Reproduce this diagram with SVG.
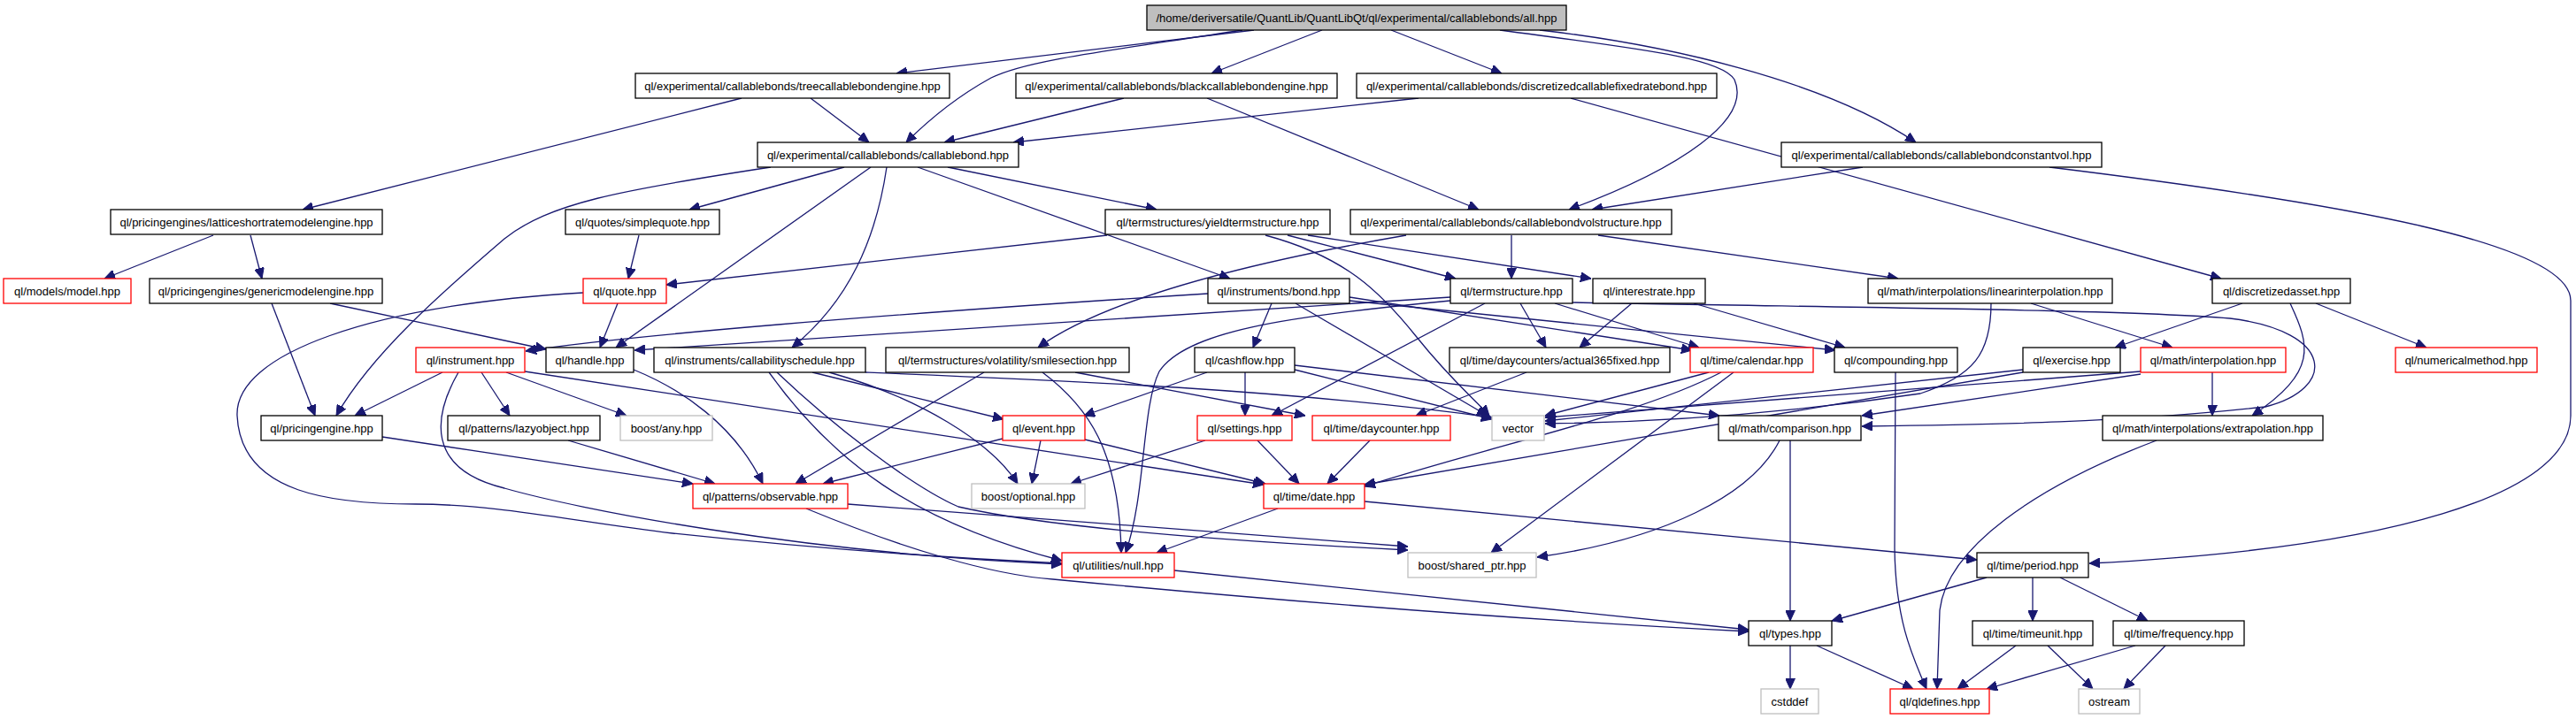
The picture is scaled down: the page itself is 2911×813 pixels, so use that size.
<svg xmlns="http://www.w3.org/2000/svg" width="2911" height="813" viewBox="0 0 2911 813">
<style>
.n rect{fill:#fff;stroke:#000;stroke-width:1.3}
.n.r rect{stroke:#f00}
.n.g rect{stroke:#bfbfbf}
.n.root rect{fill:#bfbfbf}
.n text{font-family:"Liberation Sans",Arial,sans-serif;font-size:13px;fill:#000;text-anchor:middle}
.e path{fill:none;stroke:#191970;stroke-width:1.3;marker-end:url(#a)}
</style>
<defs>
<marker id="a" viewBox="0 0 12 11" markerWidth="12" markerHeight="11" refX="12" refY="5.5" orient="auto" markerUnits="userSpaceOnUse">
<path d="M0,0 L12,5.5 L0,11 z" fill="#191970" stroke="#191970" stroke-width="1"/>
</marker>
</defs>
<rect width="2911" height="813" fill="#fff"/>
<g id="edges" class="e">
<path d="M1417,34 L1013,83"/>
<path d="M1404,34 C1250,58 1160,68 1120,88 C1080,110 1045,140 1024,161"/>
<path d="M1494,34 L1369,83"/>
<path d="M1572,34 L1697,83"/>
<path d="M1695,34 C1850,55 1945,65 1960,90 C1980,135 1900,190 1773,237"/>
<path d="M1740,34 C1880,50 2060,90 2165,161"/>
<path d="M2316,189 C2650,230 2905,275 2905,340 L2905,470 C2905,560 2700,620 2361,637"/>
<path d="M916,111 L982,161"/>
<path d="M838,111 L342,237"/>
<path d="M1270,111 L1067,161"/>
<path d="M1364,111 L1671,237"/>
<path d="M1603,111 L1145,161"/>
<path d="M1775,111 L2510,315"/>
<path d="M871,189 C700,215 620,230 570,270 C500,330 420,400 380,470"/>
<path d="M954,189 L779,237"/>
<path d="M984,189 L696,393"/>
<path d="M1002,189 C990,270 960,340 895,393"/>
<path d="M1037,189 L1390,315"/>
<path d="M1071,189 L1307,237"/>
<path d="M722,266 L710,315"/>
<path d="M1251,266 L753,322"/>
<path d="M1455,266 L1645,315"/>
<path d="M1478,266 L1798,315"/>
<path d="M1430,266 C1520,290 1560,330 1600,380 C1640,430 1665,450 1683,470"/>
<path d="M1589,266 C1450,290 1260,330 1173,393"/>
<path d="M1708,266 L1708,315"/>
<path d="M1806,266 L2145,315"/>
<path d="M2105,189 L1799,237"/>
<path d="M241,266 L118,315"/>
<path d="M283,266 L296,315"/>
<path d="M307,343 L356,470"/>
<path d="M373,343 L617,395"/>
<path d="M698,343 L678,393"/>
<path d="M659,331 C420,345 265,400 268,470 C272,560 380,570 470,570 C560,570 650,590 760,603 C900,618 1050,630 1200,637"/>
<path d="M1437,343 L1416,393"/>
<path d="M1365,332 C1000,355 700,380 594,397"/>
<path d="M1464,343 L1681,470"/>
<path d="M1525,336 L1912,396"/>
<path d="M1525,340 L2074,396"/>
<path d="M1639,336 L717,396"/>
<path d="M1639,340 C1450,358 1340,375 1310,420 C1290,460 1295,560 1272,625"/>
<path d="M1678,343 L1437,470"/>
<path d="M1215,421 L1475,470"/>
<path d="M1718,343 L1747,393"/>
<path d="M1757,343 L1920,393"/>
<path d="M1777,342 C2100,348 2400,350 2520,360 C2640,375 2640,440 2560,460 C2400,478 2250,480 2104,482"/>
<path d="M2588,343 C2610,390 2620,420 2545,470"/>
<path d="M1844,343 L1785,393"/>
<path d="M1914,343 L2085,393"/>
<path d="M2295,343 L2455,393"/>
<path d="M2250,343 C2250,400 2230,425 2170,445 C2000,470 1850,478 1746,479"/>
<path d="M2534,343 L2390,393"/>
<path d="M2617,343 L2742,393"/>
<path d="M2500,421 L2500,470"/>
<path d="M2419,420 L1746,472"/>
<path d="M2419,423 L2104,470"/>
<path d="M2286,418 L1746,476"/>
<path d="M2286,421 L1542,548"/>
<path d="M1931,421 L1746,470"/>
<path d="M1945,421 C1850,470 1700,500 1542,550"/>
<path d="M1959,421 L1685,625"/>
<path d="M2142,421 L2141,620 C2142,700 2160,740 2177,779"/>
<path d="M2011,498 C1980,560 1880,610 1737,630"/>
<path d="M2023,498 L2023,702"/>
<path d="M1364,421 L1225,470"/>
<path d="M1407,421 L1407,470"/>
<path d="M1463,418 L1686,474"/>
<path d="M1463,413 L1943,470"/>
<path d="M1112,421 L899,547"/>
<path d="M1178,421 C1230,460 1265,510 1267,625"/>
<path d="M869,421 C940,520 1030,590 1200,634"/>
<path d="M878,421 C940,480 1030,550 1083,573 C1200,600 1450,615 1591,622"/>
<path d="M918,421 L1134,474"/>
<path d="M937,421 C1040,450 1120,500 1150,547"/>
<path d="M978,421 C1200,430 1450,440 1686,472"/>
<path d="M1133,496 L930,547"/>
<path d="M1176,498 L1166,547"/>
<path d="M1226,497 L1430,547"/>
<path d="M1362,498 L1210,547"/>
<path d="M1421,498 L1468,547"/>
<path d="M1548,498 L1500,547"/>
<path d="M1725,421 L1600,470"/>
<path d="M500,421 L401,470"/>
<path d="M518,421 C490,470 480,530 570,552 C650,575 900,625 1200,638"/>
<path d="M544,421 L576,470"/>
<path d="M572,421 L708,470"/>
<path d="M593,420 L1428,548"/>
<path d="M432,494 L783,547"/>
<path d="M642,498 L808,547"/>
<path d="M716,418 C770,440 830,480 862,547"/>
<path d="M958,570 L1591,618"/>
<path d="M911,575 C1020,620 1120,650 1190,655 C1400,675 1700,700 1976,714"/>
<path d="M1327,645 L1976,712"/>
<path d="M1444,575 L1307,625"/>
<path d="M1542,567 L2234,633"/>
<path d="M2023,730 L2023,779"/>
<path d="M2053,730 L2162,779"/>
<path d="M2245,653 L2070,702"/>
<path d="M2297,653 L2297,702"/>
<path d="M2328,653 L2427,702"/>
<path d="M2278,730 L2212,779"/>
<path d="M2314,730 L2365,779"/>
<path d="M2413,730 L2245,779"/>
<path d="M2447,730 L2400,779"/>
<path d="M2437,498 C2300,550 2200,620 2192,690 L2189,779"/>
</g>
<g id="n_root" class="n root"><rect x="1296" y="6" width="474" height="28"/><text x="1533" y="24.5">/home/deriversatile/QuantLib/QuantLibQt/ql/experimental/callablebonds/all.hpp</text></g>
<g id="n_tree" class="n"><rect x="718" y="83" width="355" height="28"/><text x="895.5" y="101.5">ql/experimental/callablebonds/treecallablebondengine.hpp</text></g>
<g id="n_black" class="n"><rect x="1148" y="83" width="363" height="28"/><text x="1329.5" y="101.5">ql/experimental/callablebonds/blackcallablebondengine.hpp</text></g>
<g id="n_disc" class="n"><rect x="1533" y="83" width="407" height="28"/><text x="1736.5" y="101.5">ql/experimental/callablebonds/discretizedcallablefixedratebond.hpp</text></g>
<g id="n_cb" class="n"><rect x="856" y="161" width="295" height="28"/><text x="1003.5" y="179.5">ql/experimental/callablebonds/callablebond.hpp</text></g>
<g id="n_cvol" class="n"><rect x="2013" y="161" width="362" height="28"/><text x="2194" y="179.5">ql/experimental/callablebonds/callablebondconstantvol.hpp</text></g>
<g id="n_lattice" class="n"><rect x="125" y="237" width="307" height="28"/><text x="278.5" y="255.5">ql/pricingengines/latticeshortratemodelengine.hpp</text></g>
<g id="n_sq" class="n"><rect x="639" y="237" width="174" height="28"/><text x="726" y="255.5">ql/quotes/simplequote.hpp</text></g>
<g id="n_yts" class="n"><rect x="1249" y="237" width="254" height="28"/><text x="1376" y="255.5">ql/termstructures/yieldtermstructure.hpp</text></g>
<g id="n_vol" class="n"><rect x="1526" y="237" width="363" height="28"/><text x="1707.5" y="255.5">ql/experimental/callablebonds/callablebondvolstructure.hpp</text></g>
<g id="n_model" class="n r"><rect x="4" y="315" width="144" height="28"/><text x="76" y="333.5">ql/models/model.hpp</text></g>
<g id="n_generic" class="n"><rect x="169" y="315" width="263" height="28"/><text x="300.5" y="333.5">ql/pricingengines/genericmodelengine.hpp</text></g>
<g id="n_quote" class="n r"><rect x="659" y="315" width="94" height="28"/><text x="706" y="333.5">ql/quote.hpp</text></g>
<g id="n_bond" class="n"><rect x="1365" y="315" width="160" height="28"/><text x="1445" y="333.5">ql/instruments/bond.hpp</text></g>
<g id="n_ts" class="n"><rect x="1639" y="315" width="138" height="28"/><text x="1708" y="333.5">ql/termstructure.hpp</text></g>
<g id="n_ir" class="n"><rect x="1800" y="315" width="127" height="28"/><text x="1863.5" y="333.5">ql/interestrate.hpp</text></g>
<g id="n_linear" class="n"><rect x="2111" y="315" width="276" height="28"/><text x="2249" y="333.5">ql/math/interpolations/linearinterpolation.hpp</text></g>
<g id="n_da" class="n"><rect x="2500" y="315" width="156" height="28"/><text x="2578" y="333.5">ql/discretizedasset.hpp</text></g>
<g id="n_instrument" class="n r"><rect x="470" y="393" width="123" height="28"/><text x="531.5" y="411.5">ql/instrument.hpp</text></g>
<g id="n_handle" class="n"><rect x="617" y="393" width="99" height="28"/><text x="666.5" y="411.5">ql/handle.hpp</text></g>
<g id="n_callab" class="n"><rect x="739" y="393" width="239" height="28"/><text x="858.5" y="411.5">ql/instruments/callabilityschedule.hpp</text></g>
<g id="n_smile" class="n"><rect x="1001" y="393" width="275" height="28"/><text x="1138.5" y="411.5">ql/termstructures/volatility/smilesection.hpp</text></g>
<g id="n_cashflow" class="n"><rect x="1350" y="393" width="113" height="28"/><text x="1406.5" y="411.5">ql/cashflow.hpp</text></g>
<g id="n_a365" class="n"><rect x="1638" y="393" width="249" height="28"/><text x="1762.5" y="411.5">ql/time/daycounters/actual365fixed.hpp</text></g>
<g id="n_calendar" class="n r"><rect x="1910" y="393" width="139" height="28"/><text x="1979.5" y="411.5">ql/time/calendar.hpp</text></g>
<g id="n_compounding" class="n"><rect x="2073" y="393" width="139" height="28"/><text x="2142.5" y="411.5">ql/compounding.hpp</text></g>
<g id="n_exercise" class="n"><rect x="2286" y="393" width="110" height="28"/><text x="2341" y="411.5">ql/exercise.hpp</text></g>
<g id="n_interp" class="n r"><rect x="2419" y="393" width="164" height="28"/><text x="2501" y="411.5">ql/math/interpolation.hpp</text></g>
<g id="n_nm" class="n r"><rect x="2707" y="393" width="160" height="28"/><text x="2787" y="411.5">ql/numericalmethod.hpp</text></g>
<g id="n_pe" class="n"><rect x="295" y="470" width="137" height="28"/><text x="363.5" y="488.5">ql/pricingengine.hpp</text></g>
<g id="n_lazy" class="n"><rect x="506" y="470" width="172" height="28"/><text x="592" y="488.5">ql/patterns/lazyobject.hpp</text></g>
<g id="n_any" class="n g"><rect x="701" y="470" width="104" height="28"/><text x="753" y="488.5">boost/any.hpp</text></g>
<g id="n_event" class="n r"><rect x="1133" y="470" width="93" height="28"/><text x="1179.5" y="488.5">ql/event.hpp</text></g>
<g id="n_settings" class="n r"><rect x="1353" y="470" width="107" height="28"/><text x="1406.5" y="488.5">ql/settings.hpp</text></g>
<g id="n_dc" class="n r"><rect x="1483" y="470" width="156" height="28"/><text x="1561" y="488.5">ql/time/daycounter.hpp</text></g>
<g id="n_vector" class="n g"><rect x="1686" y="470" width="59" height="28"/><text x="1715.5" y="488.5">vector</text></g>
<g id="n_comparison" class="n"><rect x="1942" y="470" width="161" height="28"/><text x="2022.5" y="488.5">ql/math/comparison.hpp</text></g>
<g id="n_extrap" class="n"><rect x="2376" y="470" width="249" height="28"/><text x="2500.5" y="488.5">ql/math/interpolations/extrapolation.hpp</text></g>
<g id="n_observable" class="n r"><rect x="783" y="547" width="175" height="28"/><text x="870.5" y="565.5">ql/patterns/observable.hpp</text></g>
<g id="n_optional" class="n g"><rect x="1098" y="547" width="128" height="28"/><text x="1162" y="565.5">boost/optional.hpp</text></g>
<g id="n_date" class="n r"><rect x="1428" y="547" width="114" height="28"/><text x="1485" y="565.5">ql/time/date.hpp</text></g>
<g id="n_null" class="n r"><rect x="1200" y="625" width="127" height="28"/><text x="1263.5" y="643.5">ql/utilities/null.hpp</text></g>
<g id="n_sp" class="n g"><rect x="1591" y="625" width="145" height="28"/><text x="1663.5" y="643.5">boost/shared_ptr.hpp</text></g>
<g id="n_period" class="n"><rect x="2234" y="625" width="126" height="28"/><text x="2297" y="643.5">ql/time/period.hpp</text></g>
<g id="n_types" class="n"><rect x="1976" y="702" width="94" height="28"/><text x="2023" y="720.5">ql/types.hpp</text></g>
<g id="n_timeunit" class="n"><rect x="2229" y="702" width="136" height="28"/><text x="2297" y="720.5">ql/time/timeunit.hpp</text></g>
<g id="n_freq" class="n"><rect x="2388" y="702" width="148" height="28"/><text x="2462" y="720.5">ql/time/frequency.hpp</text></g>
<g id="n_cstddef" class="n g"><rect x="1990" y="779" width="65" height="28"/><text x="2022.5" y="797.5">cstddef</text></g>
<g id="n_qldefines" class="n r"><rect x="2136" y="779" width="112" height="28"/><text x="2192" y="797.5">ql/qldefines.hpp</text></g>
<g id="n_ostream" class="n g"><rect x="2349" y="779" width="69" height="28"/><text x="2383.5" y="797.5">ostream</text></g>
</svg>
